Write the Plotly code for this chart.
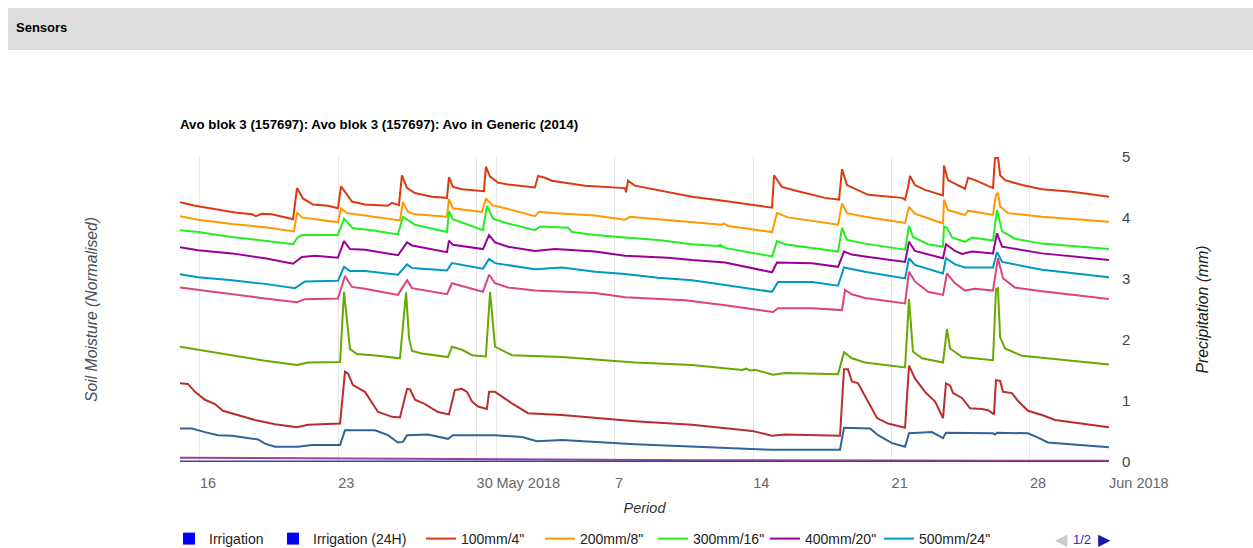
import pandas as pd
import plotly.graph_objects as go

# ---------------- data (day offsets from 2018-04-16 00:00, values) ----------------
BASE = "2018-04-16"

d_100 = [-1.01, -0.25, 1.77, 2.63, 2.83, 3.14, 3.64, 4.71, 4.91, 5.21, 5.72, 6.48, 6.98, 7.14, 7.69, 8.35, 9.51, 9.72, 10.07, 10.22, 10.48, 10.88, 11.74, 12.50, 12.60, 12.80, 13.26, 14.37, 14.47, 14.68, 15.08, 15.59, 16.95, 17.11, 17.46, 17.81, 19.48, 21.51, 21.56, 21.66, 22.01, 23.18, 24.90, 26.57, 27.94, 28.95, 29.05, 29.45, 30.26, 31.63, 32.34, 32.49, 32.74, 33.81, 35.53, 35.68, 35.83, 35.93, 36.18, 36.69, 37.60, 37.65, 37.85, 38.21, 38.71, 38.87, 39.22, 40.13, 40.23, 40.38, 40.49, 40.74, 41.60, 42.61, 44.13, 46.0]
v_100 = [4.26, 4.20, 4.09, 4.06, 4.03, 4.07, 4.06, 3.98, 4.49, 4.32, 4.22, 4.20, 4.16, 4.52, 4.27, 4.22, 4.20, 4.25, 4.21, 4.70, 4.49, 4.41, 4.35, 4.33, 4.67, 4.51, 4.47, 4.44, 4.84, 4.68, 4.58, 4.55, 4.50, 4.69, 4.66, 4.61, 4.53, 4.49, 4.42, 4.61, 4.53, 4.46, 4.35, 4.28, 4.21, 4.17, 4.70, 4.51, 4.44, 4.33, 4.30, 4.80, 4.54, 4.38, 4.33, 4.30, 4.50, 4.69, 4.54, 4.46, 4.37, 4.86, 4.62, 4.56, 4.48, 4.66, 4.62, 4.49, 4.98, 5.0, 4.70, 4.62, 4.54, 4.47, 4.43, 4.35]

d_200 = [-1.01, -0.10, 1.62, 3.29, 4.76, 4.91, 5.16, 5.82, 6.98, 7.14, 7.44, 8.35, 10.12, 10.27, 10.53, 10.88, 12.50, 12.60, 12.80, 14.27, 14.47, 14.78, 15.44, 16.95, 17.16, 17.81, 19.99, 21.51, 21.76, 23.18, 24.90, 26.42, 26.52, 26.72, 28.95, 29.20, 29.76, 30.97, 32.29, 32.49, 32.74, 33.65, 35.68, 35.88, 36.18, 37.60, 37.65, 37.85, 38.71, 38.87, 40.13, 40.28, 40.38, 40.49, 40.89, 42.61, 46.0]
v_200 = [4.03, 3.97, 3.90, 3.85, 3.78, 4.09, 4.01, 3.98, 3.93, 4.16, 4.08, 4.04, 3.96, 4.26, 4.10, 4.06, 4.02, 4.31, 4.16, 4.10, 4.32, 4.21, 4.16, 4.03, 4.10, 4.08, 4.04, 3.97, 4.02, 3.98, 3.93, 3.89, 3.91, 3.87, 3.77, 4.08, 4.01, 3.95, 3.89, 4.24, 4.08, 4.02, 3.92, 4.18, 4.07, 3.91, 4.30, 4.13, 4.05, 4.12, 4.05, 4.38, 4.41, 4.19, 4.08, 4.02, 3.94]

d_300 = [-1.01, -0.10, 1.62, 3.29, 4.71, 4.91, 5.16, 5.82, 6.98, 7.29, 7.74, 8.70, 10.02, 10.27, 10.53, 10.88, 12.50, 12.60, 12.80, 14.32, 14.52, 14.83, 15.59, 16.95, 17.21, 18.62, 18.83, 19.99, 21.51, 23.18, 24.90, 26.21, 26.32, 26.57, 28.95, 29.20, 29.61, 30.97, 32.29, 32.49, 32.74, 33.65, 35.68, 35.88, 36.08, 36.84, 37.60, 37.65, 37.80, 38.06, 38.71, 39.07, 40.13, 40.33, 40.59, 41.24, 42.61, 46.0]
v_300 = [3.80, 3.77, 3.69, 3.62, 3.57, 3.67, 3.72, 3.72, 3.72, 3.99, 3.83, 3.80, 3.73, 4.02, 3.97, 3.89, 3.77, 4.11, 3.98, 3.80, 4.20, 3.99, 3.91, 3.80, 3.86, 3.84, 3.77, 3.72, 3.68, 3.64, 3.57, 3.54, 3.56, 3.51, 3.37, 3.62, 3.57, 3.51, 3.45, 3.84, 3.64, 3.58, 3.48, 3.87, 3.69, 3.57, 3.53, 3.86, 3.84, 3.68, 3.61, 3.68, 3.63, 4.13, 3.78, 3.66, 3.58, 3.49]

d_400 = [-1.01, -0.10, 1.62, 3.29, 4.71, 5.16, 5.82, 6.98, 7.29, 7.59, 8.35, 9.21, 10.02, 10.48, 10.73, 12.50, 12.60, 12.80, 14.32, 14.63, 14.93, 15.59, 16.95, 17.97, 19.99, 21.51, 23.68, 24.90, 26.57, 28.95, 29.20, 30.97, 32.29, 32.59, 32.99, 33.65, 35.68, 35.88, 36.18, 37.60, 37.75, 38.21, 38.56, 39.07, 40.13, 40.33, 40.59, 42.61, 46.0]
v_400 = [3.52, 3.47, 3.42, 3.34, 3.25, 3.36, 3.38, 3.35, 3.62, 3.49, 3.48, 3.43, 3.39, 3.60, 3.55, 3.44, 3.63, 3.56, 3.49, 3.72, 3.60, 3.53, 3.46, 3.49, 3.45, 3.38, 3.35, 3.31, 3.27, 3.11, 3.27, 3.26, 3.20, 3.45, 3.40, 3.37, 3.28, 3.61, 3.46, 3.34, 3.57, 3.46, 3.41, 3.45, 3.42, 3.75, 3.53, 3.42, 3.31]

d_500 = [-1.01, -0.10, 1.62, 3.29, 4.81, 5.31, 6.98, 7.29, 7.59, 8.35, 10.02, 10.48, 10.73, 12.50, 12.75, 14.32, 14.63, 14.93, 16.95, 18.32, 19.99, 21.51, 23.18, 24.90, 26.57, 28.95, 29.25, 30.97, 32.29, 32.59, 33.65, 35.68, 35.88, 36.18, 37.60, 37.75, 38.21, 38.71, 40.13, 40.33, 40.59, 42.61, 46.0]
v_500 = [3.08, 3.03, 2.98, 2.92, 2.85, 2.96, 2.97, 3.20, 3.13, 3.13, 3.07, 3.24, 3.18, 3.14, 3.26, 3.17, 3.33, 3.26, 3.16, 3.19, 3.12, 3.08, 3.02, 2.98, 2.90, 2.79, 2.95, 2.95, 2.89, 3.19, 3.12, 3.01, 3.34, 3.23, 3.09, 3.34, 3.24, 3.19, 3.19, 3.44, 3.28, 3.15, 3.03]

d_600 = [-1.01, -0.10, 1.62, 3.29, 4.91, 5.31, 6.98, 7.34, 7.69, 8.35, 10.02, 10.48, 10.73, 12.50, 12.75, 14.32, 14.63, 14.93, 15.59, 16.95, 19.99, 21.51, 24.54, 26.57, 29.00, 29.25, 30.97, 32.49, 32.64, 32.99, 33.65, 35.68, 35.88, 36.18, 36.84, 37.60, 37.80, 38.21, 38.71, 39.22, 40.13, 40.38, 40.64, 41.24, 42.61, 46.0]
v_600 = [2.86, 2.82, 2.75, 2.68, 2.62, 2.67, 2.68, 3.05, 2.87, 2.84, 2.74, 2.98, 2.85, 2.75, 2.93, 2.79, 3.07, 2.93, 2.86, 2.81, 2.77, 2.70, 2.65, 2.57, 2.46, 2.52, 2.52, 2.49, 2.82, 2.75, 2.69, 2.60, 3.12, 2.96, 2.79, 2.74, 3.09, 2.93, 2.81, 2.84, 2.81, 3.34, 3.01, 2.86, 2.80, 2.67]

d_700 = [-1.01, -0.10, 1.62, 3.29, 4.91, 5.47, 7.09, 7.29, 7.59, 7.95, 9.01, 10.12, 10.43, 10.58, 10.73, 11.23, 12.55, 12.75, 13.26, 13.77, 14.47, 14.68, 14.93, 15.79, 18.32, 22.01, 24.90, 27.43, 27.63, 27.83, 28.09, 29.00, 29.61, 32.29, 32.59, 32.99, 33.65, 35.68, 35.88, 36.08, 36.54, 37.60, 37.80, 37.96, 38.56, 40.13, 40.28, 40.38, 40.49, 40.74, 41.60, 46.0]
v_700 = [1.89, 1.84, 1.74, 1.66, 1.59, 1.63, 1.64, 2.79, 1.85, 1.77, 1.74, 1.70, 2.78, 2.03, 1.82, 1.78, 1.72, 1.89, 1.84, 1.75, 1.73, 2.79, 1.89, 1.75, 1.72, 1.63, 1.59, 1.51, 1.53, 1.50, 1.51, 1.43, 1.46, 1.44, 1.80, 1.70, 1.63, 1.55, 2.67, 1.81, 1.70, 1.63, 2.18, 1.86, 1.72, 1.67, 2.83, 2.85, 2.05, 1.86, 1.74, 1.60]

d_800 = [-1.01, -0.61, -0.25, 0.25, 0.76, 1.16, 2.78, 3.80, 4.91, 5.47, 7.09, 7.34, 7.49, 7.74, 8.35, 9.01, 9.72, 10.12, 10.48, 10.63, 10.88, 11.39, 12.04, 12.60, 12.90, 13.26, 13.51, 13.77, 14.07, 14.52, 14.63, 14.93, 15.79, 16.60, 18.32, 22.01, 24.90, 27.94, 28.95, 29.61, 32.39, 32.59, 32.79, 32.99, 33.30, 33.81, 34.26, 34.82, 35.68, 35.88, 36.18, 36.69, 37.20, 37.60, 37.75, 37.96, 38.11, 38.56, 38.97, 39.57, 39.88, 40.18, 40.28, 40.49, 40.64, 41.09, 41.40, 41.90, 42.61, 43.27, 46.0]
v_800 = [1.29, 1.28, 1.15, 1.02, 0.95, 0.84, 0.69, 0.62, 0.57, 0.61, 0.63, 1.48, 1.45, 1.26, 1.15, 0.82, 0.74, 0.73, 1.20, 1.19, 1.02, 0.95, 0.82, 0.78, 1.18, 1.20, 1.15, 0.99, 0.91, 0.87, 1.15, 1.15, 0.96, 0.80, 0.77, 0.67, 0.61, 0.51, 0.43, 0.45, 0.43, 1.52, 1.52, 1.32, 1.29, 0.99, 0.72, 0.63, 0.56, 1.58, 1.37, 1.15, 0.99, 0.72, 1.29, 1.25, 1.13, 1.05, 0.88, 0.87, 0.85, 0.78, 1.34, 1.33, 1.15, 1.13, 1.00, 0.84, 0.77, 0.69, 0.57]

d_900 = [-1.01, -0.40, 0.25, 0.91, 1.62, 2.94, 3.29, 3.80, 4.96, 5.67, 7.09, 7.34, 8.86, 9.51, 10.02, 10.27, 10.48, 11.54, 12.55, 12.80, 14.93, 16.30, 17.05, 18.32, 22.01, 24.90, 28.95, 32.39, 32.59, 33.91, 34.31, 35.02, 35.68, 35.88, 37.04, 37.60, 37.75, 40.13, 40.23, 40.33, 41.90, 42.41, 42.91, 46.0]
v_900 = [0.55, 0.55, 0.49, 0.44, 0.43, 0.37, 0.30, 0.25, 0.25, 0.28, 0.28, 0.52, 0.52, 0.44, 0.32, 0.33, 0.44, 0.45, 0.38, 0.44, 0.44, 0.41, 0.34, 0.36, 0.29, 0.25, 0.20, 0.20, 0.56, 0.55, 0.44, 0.31, 0.25, 0.47, 0.49, 0.39, 0.48, 0.47, 0.45, 0.48, 0.47, 0.40, 0.32, 0.24]

d_1000 = [-1.01, 10.0, 25.0, 46.0]
v_1000 = [0.07, 0.05, 0.03, 0.02]

d_temp = [-1.01, 20.0, 46.0]
v_temp = [0.01, 0.005, 0.0]

irr_days = [-1, 4, 9, 14, 19, 24, 29, 34, 39, 44]
irr_vals = [0, 0, 0, 0, 0, 0, 0, 0, 0, 0]
irr24_vals = [0, 0, 0, 0, 0, 0, 0, 0, 0, 0]

series_names = ['100mm/4"', '200mm/8"', '300mm/16"', '400mm/20"', '500mm/24"',
                '600mm/28"', '700mm/32"', '800mm/36"', '900mm/40"', '1000mm/44"', 'Temperature']
series_days = [d_100, d_200, d_300, d_400, d_500, d_600, d_700, d_800, d_900, d_1000, d_temp]
series_vals = [v_100, v_200, v_300, v_400, v_500, v_600, v_700, v_800, v_900, v_1000, v_temp]
series_colors = ["#dc3912", "#ff9900", "#22ee22", "#990099", "#0099c6",
                 "#dd4477", "#66aa00", "#b82e2e", "#316395", "#994499", "#3b3eac"]
legend_page1 = 5  # first five sensor series appear on legend page 1

tick_dates = ["2018-04-16", "2018-04-23", "2018-04-30", "2018-05-01", "2018-05-07",
              "2018-05-14", "2018-05-21", "2018-05-28", "2018-06-01"]
tick_text = ["16", "23", "30", "May 2018", "7", "14", "21", "28", "Jun 2018"]
y2_ticks = [0, 1, 2, 3, 4, 5]

# ---------------- figure ----------------
base = pd.Timestamp(BASE)


def to_time(days):
    return base + pd.to_timedelta(days, unit="D")


FONT = "Arial, Liberation Sans, sans-serif"
W, H = 1253, 548
ML, MR, MT, MB = 180, 144, 157, 86
PW, PH = W - ML - MR, H - MT - MB


def px_x(p):
    return (p - ML) / PW


def px_y(p):
    return (H - MB - p) / PH


# legend entry left edges (px) for the single-row legend page
legend_left = [169, 273, 421, 540, 653, 765, 879]
LEG_Y = 539

fig = go.Figure()

fig.add_trace(go.Bar(x=to_time(irr_days), y=irr_vals, name="Irrigation",
                     marker=dict(color="#0000ff", line=dict(width=0)), yaxis="y2",
                     legend="legend"))
fig.add_trace(go.Bar(x=to_time(irr_days), y=irr24_vals, name="Irrigation (24H)",
                     marker=dict(color="#0000ff", line=dict(width=0)), yaxis="y2",
                     legend="legend2"))

for i, (nm, dd, vv, col) in enumerate(zip(series_names, series_days, series_vals, series_colors)):
    kw = {}
    if i < legend_page1:
        kw["legend"] = "legend%d" % (i + 3)
    fig.add_trace(go.Scatter(x=to_time(dd), y=vv, name=nm, mode="lines",
                             line=dict(color=col, width=2),
                             showlegend=i < legend_page1, **kw))

all_days = [x for dd in series_days for x in dd]
x_start = to_time(min(all_days))
x_end = to_time(max(all_days))

legends = {}
for k, lx in enumerate(legend_left):
    key = "legend" if k == 0 else "legend%d" % (k + 1)
    legends[key] = dict(orientation="h", x=px_x(lx), xanchor="left",
                        y=px_y(LEG_Y), yanchor="middle",
                        font=dict(size=14, color="#222", family=FONT),
                        bgcolor="rgba(0,0,0,0)", borderwidth=0)

fig.update_layout(
    width=W, height=H,
    margin=dict(l=ML, r=MR, t=MT, b=MB, pad=0, autoexpand=False),
    paper_bgcolor="white", plot_bgcolor="white",
    font=dict(family=FONT, size=14, color="#222"),
    barmode="overlay",
    title=dict(text="<b>Avo blok 3 (157697): Avo blok 3 (157697): Avo in Generic (2014)</b>",
               x=0, xref="paper", xanchor="left",
               y=1 - 124 / H, yref="container", yanchor="middle",
               font=dict(size=13.3, color="#000", family=FONT)),
    xaxis=dict(type="date", range=[x_start, x_end],
               tickmode="array", tickvals=tick_dates, ticktext=tick_text,
               ticklabelposition="outside right", ticklabelstandoff=10, tickangle=0,
               tickfont=dict(size=14.5, color="#666"),
               showgrid=True, gridcolor="#e6e6e6", gridwidth=1,
               zeroline=False, showline=False, ticks="",
               title=dict(text="Period", font=dict(size=14.5, color="#333", style="italic"),
                          standoff=13)),
    yaxis=dict(range=[0, 5], showticklabels=False, showgrid=False, zeroline=False,
               showline=False, ticks="",
               title=dict(text="Soil Moisture (Normalised)", standoff=77,
                          font=dict(size=15.7, color="#47505c", style="italic"))),
    yaxis2=dict(range=[0, 5], overlaying="y", side="right", tickmode="array",
                tickvals=y2_ticks, showgrid=False, zeroline=False, showline=False,
                ticks="", ticklabelstandoff=12,
                tickfont=dict(size=15, color="#444"),
                title=dict(text="Precipitation (mm)", standoff=67,
                           font=dict(size=15.8, color="#222", style="italic"))),
    showlegend=True,
    **legends,
)

# header bar
fig.add_shape(type="rect", xref="paper", yref="paper",
              x0=px_x(8), x1=px_x(W), y0=px_y(50), y1=px_y(8),
              fillcolor="#dddddd", line=dict(width=0), layer="below")
fig.add_annotation(text="<b>Sensors</b>", xref="paper", yref="paper",
                   x=px_x(14), y=px_y(28), xanchor="left", yanchor="middle",
                   showarrow=False, font=dict(size=13, color="#000", family=FONT))

# legend paging indicator (previous arrow, page text, next arrow)
pager = [("◀", 1053, 16, "#cccccc"), ("1/2", 1071, 13, "#2a2ad0"), ("▶", 1096, 16, "#0a1fb0")]
for txt, px, fs, col in pager:
    fig.add_annotation(text=txt, xref="paper", yref="paper", x=px_x(px), y=px_y(LEG_Y),
                       xanchor="left", yanchor="middle", showarrow=False,
                       font=dict(size=fs, color=col, family=FONT))

fig.write_html("out.html", include_plotlyjs=True, full_html=True,
               config={"displayModeBar": False},
               post_script="document.body.style.margin='0';")
